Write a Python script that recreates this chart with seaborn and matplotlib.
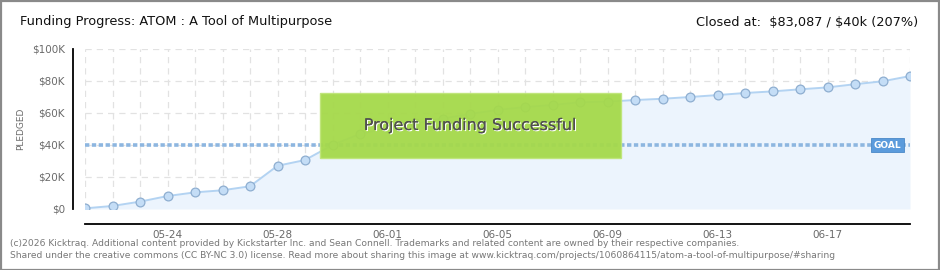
import matplotlib
matplotlib.use("Agg")
import matplotlib.pyplot as plt
import matplotlib.transforms as mtransforms
from matplotlib.patches import Rectangle
import matplotlib.patheffects as pe
import numpy as np
import pandas as pd
import seaborn as sns

# ---------------- data ----------------
dates = ["05-21", "05-22", "05-23", "05-24", "05-25", "05-26", "05-27", "05-28",
         "05-29", "05-30", "05-31", "06-01", "06-02", "06-03", "06-04", "06-05",
         "06-06", "06-07", "06-08", "06-09", "06-10", "06-11", "06-12", "06-13",
         "06-14", "06-15", "06-16", "06-17", "06-18", "06-19", "06-20"]
pledged = [400, 1900, 4600, 8100, 10400, 11700, 14200, 27000,
           30600, 40000, 46900, 50500, 53500, 56500, 59400, 61900,
           63700, 65000, 66700, 67100, 68100, 68900, 70000, 71200,
           72500, 73500, 74800, 76000, 78000, 79800, 83087]
goal = 40000
yticks = [0, 20000, 40000, 60000, 80000, 100000]
ytick_labels = ["$0", "$20K", "$40K", "$60K", "$80K", "$100K"]
minor_yticks = [10000, 30000, 50000, 70000, 90000]
xlabel_dates = ["05-24", "05-28", "06-01", "06-05", "06-09", "06-13", "06-17"]

title = "Funding Progress: ATOM : A Tool of Multipurpose"
closed_text = "Closed at:  \\$83,087 / \\$40k (207%)"
banner = "Project Funding Successful"
footer1 = ("(c)2026 Kicktraq. Additional content provided by Kickstarter Inc. and Sean Connell. "
           "Trademarks and related content are owned by their respective companies.")
footer2 = ("Shared under the creative commons (CC BY-NC 3.0) license. Read more about sharing this image at "
           "www.kicktraq.com/projects/1060864115/atom-a-tool-of-multipurpose/#sharing")

df = pd.DataFrame({"day": np.arange(len(dates)), "date": dates, "pledged": pledged})

# ---------------- figure ----------------
sns.set_style("white")
plt.rcParams['font.family'] = ['DejaVu Sans']
W, H = 940, 270
fig = plt.figure(figsize=(W / 100, H / 100), dpi=100)
fig.patch.set_facecolor("white")

ax = fig.add_axes([85 / W, 1 - 209 / H, (910 - 85) / W, (209 - 49) / H])
ax.set_facecolor("white")

line_col = "#b3d3f2"
fill_col = "#ecf4fd"
ax.fill_between(df["day"], df["pledged"], 0, color=fill_col, zorder=1, lw=0)
sns.lineplot(data=df, x="day", y="pledged", ax=ax, color=line_col, lw=1.4, zorder=3)
sns.scatterplot(data=df, x="day", y="pledged", ax=ax, s=40, color="#c4ddf6",
                edgecolor="#8eaed0", linewidth=0.9, zorder=4)

# goal line
ax.axhline(goal, color="#8db6e0", lw=2.6, ls=(0, (1.2, 0.7)), zorder=2)

ax.set_xlim(0, len(dates) - 1)
ax.set_ylim(0, 100000)

# grid
for d in df["day"]:
    ax.axvline(d, color="#e2e2e2", lw=0.9, ls=(0, (5, 4)), zorder=0.5)
for yv in yticks:
    ax.axhline(yv, color="#e2e2e2", lw=0.9, ls=(0, (5, 4)), zorder=0.5)

# spines
for s in ["top", "right"]:
    ax.spines[s].set_visible(False)
ax.spines["left"].set_position(("outward", 9))
ax.spines["bottom"].set_position(("outward", 11))
ax.spines["left"].set_bounds(0, 100000)
ax.spines["bottom"].set_bounds(0, len(dates) - 1)
ax.spines["left"].set_color("black")
ax.spines["bottom"].set_color("black")
ax.spines["left"].set_linewidth(1.3)
ax.spines["bottom"].set_linewidth(1.3)

ax.set_yticks(yticks)
ax.set_yticklabels(ytick_labels)
ax.set_yticks(minor_yticks, minor=True)
ax.tick_params(axis="y", which="major", direction="inout", length=5, width=1.2,
               color="black", labelsize=7.5, labelcolor="#6a6a6a", pad=3)
ax.tick_params(axis="y", which="minor", direction="out", length=3, width=1.2,
               color="#e01010")
ax.set_xticks(df["day"])
ax.set_xticklabels([d if d in xlabel_dates else "" for d in dates])
ax.tick_params(axis="x", direction="inout", length=6, width=1.2, color="black",
               labelsize=7.5, labelcolor="#6a6a6a", pad=1)
ax.set_xlabel("")
ax.set_ylabel("PLEDGED", fontsize=6.5, color="#6a6a6a", labelpad=5)

# goal tag
trans = mtransforms.blended_transform_factory(ax.transAxes, ax.transData)
ax.text(0.973, goal, "GOAL", transform=trans, ha="center", va="center",
        fontsize=6.5, color="white", fontweight="bold", zorder=6,
        bbox=dict(boxstyle="square,pad=0.3", fc="#5b9bdc", ec="#4a88c8", lw=0.6))

# success banner
ax.add_patch(Rectangle((0.285, 0.319), 0.365, 0.406, transform=ax.transAxes,
                       facecolor="#a5d94a", edgecolor="#bfe57a", lw=1,
                       alpha=0.95, zorder=7))
ax.text(0.4675, 0.522, banner, transform=ax.transAxes, ha="center", va="center",
        fontsize=11.5, color="#505050", zorder=8,
        path_effects=[pe.withSimplePatchShadow(offset=(0.8, -0.8), shadow_rgbFace="white", alpha=1),
                      pe.Normal()])

# title texts
fig.text(20 / W, 1 - 22 / H, title, ha="left", va="center", fontsize=9.3, color="#111111")
fig.text(918 / W, 1 - 22 / H, closed_text, ha="right", va="center", fontsize=9.3, color="#111111")

# footer
fig.text(10 / W, 1 - 243 / H, footer1, ha="left", va="center", fontsize=6.6, color="#777777")
fig.text(10 / W, 1 - 256 / H, footer2, ha="left", va="center", fontsize=6.6, color="#777777")

# outer frame
fig.patches.append(Rectangle((0.5 / W, 0.5 / H), 1 - 1.5 / W, 1 - 1.5 / H,
                             transform=fig.transFigure, fill=False,
                             edgecolor="#8a8a8a", lw=1.6))

fig.savefig("out.png", dpi=100)
